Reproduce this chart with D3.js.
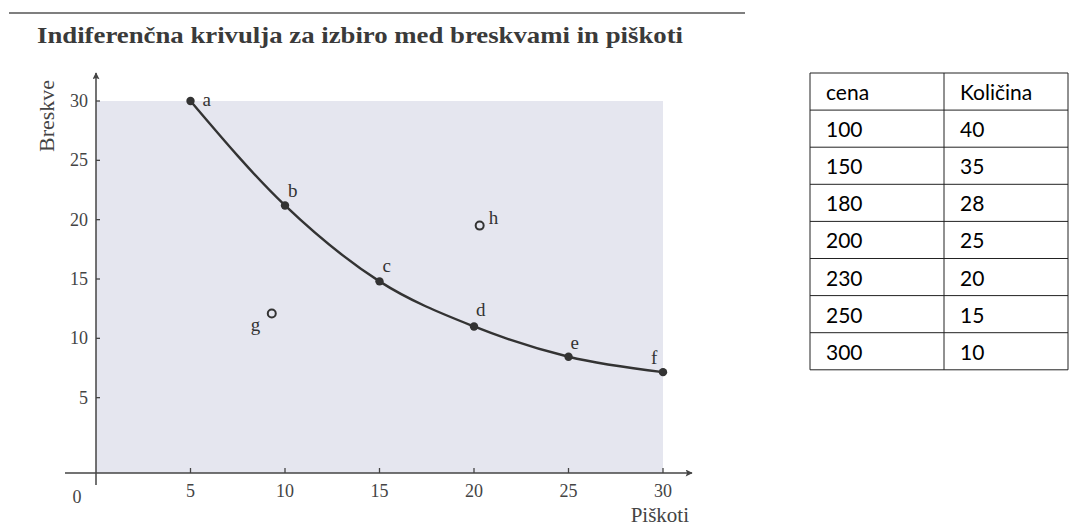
<!DOCTYPE html>
<html>
<head>
<meta charset="utf-8">
<script src="https://cdn.jsdelivr.net/npm/d3@7"></script>
<style>
  body { margin: 0; background: #fff; }
  svg { display: block; }
</style>
</head>
<body>
<div id="chart"></div>
<script>
// Curve points (Piškoti, Breskve)
const curveNames = ["a", "b", "c", "d", "e", "f"];
const curveX = [5, 10, 15, 20, 25, 30];
const curveY = [30, 21.2, 14.8, 11, 8.45, 7.15];

// Off-curve baskets
const otherNames = ["g", "h"];
const otherX = [9.3, 20.3];
const otherY = [12.1, 19.5];

const xTicks = [5, 10, 15, 20, 25, 30];
const yTicks = [5, 10, 15, 20, 25, 30];

// Table
const tableHeader = ["cena", "Količina"];
const cena = [100, 150, 180, 200, 230, 250, 300];
const kolicina = [40, 35, 28, 25, 20, 15, 10];

const width = 1075, height = 526;
const serif = "'Liberation Serif', 'Times New Roman', Times, serif";
const ink = "#3a3a3a";

const svg = d3.select("#chart")
    .append("svg")
    .attr("width", width)
    .attr("height", height);

// top rule and title
svg.append("line")
    .attr("x1", 9).attr("x2", 745)
    .attr("y1", 13).attr("y2", 13)
    .attr("stroke", "#555").attr("stroke-width", 1.5);

svg.append("text")
    .attr("x", 37).attr("y", 43)
    .attr("textLength", 646)
    .attr("lengthAdjust", "spacingAndGlyphs")
    .style("font-family", serif)
    .style("font-weight", "bold")
    .style("font-size", "24px")
    .attr("fill", ink)
    .text("Indiferenčna krivulja za izbiro med breskvami in piškoti");

// scales
const xScale = d3.scaleLinear().domain([0, 30]).range([96, 663]);
const yScale = d3.scaleLinear().domain([0, 30]).range([457, 101]);
const axisY = 473;   // x axis sits a little below zero in the scan

// shaded plot area
svg.append("rect")
    .attr("x", xScale(0))
    .attr("y", yScale(30))
    .attr("width", xScale(30) - xScale(0))
    .attr("height", axisY - yScale(30))
    .attr("fill", "#e5e6ef");

// arrowhead
const defs = svg.append("defs");
defs.append("marker")
    .attr("id", "arrow")
    .attr("viewBox", "0 0 10 10")
    .attr("refX", 9).attr("refY", 5)
    .attr("markerWidth", 9).attr("markerHeight", 7)
    .attr("markerUnits", "userSpaceOnUse")
    .attr("orient", "auto")
    .append("path")
    .attr("d", "M0,0 L10,5 L0,10 L2,5 Z")
    .attr("fill", "#444");

// axes lines
svg.append("line")
    .attr("x1", 65).attr("x2", 692)
    .attr("y1", axisY).attr("y2", axisY)
    .attr("stroke", "#444").attr("stroke-width", 1.5)
    .attr("marker-end", "url(#arrow)");

svg.append("line")
    .attr("x1", xScale(0)).attr("x2", xScale(0))
    .attr("y1", 485).attr("y2", 73)
    .attr("stroke", "#444").attr("stroke-width", 1.5)
    .attr("marker-end", "url(#arrow)");

// x ticks
const xAxis = svg.append("g");
xAxis.selectAll("line")
    .data(xTicks)
    .join("line")
    .attr("x1", d => xScale(d)).attr("x2", d => xScale(d))
    .attr("y1", axisY).attr("y2", axisY - 5)
    .attr("stroke", "#444").attr("stroke-width", 1.3);
xAxis.selectAll("text")
    .data(xTicks)
    .join("text")
    .attr("x", d => xScale(d))
    .attr("y", 497)
    .attr("text-anchor", "middle")
    .style("font-family", serif)
    .style("font-size", "18px")
    .attr("fill", "#444")
    .text(d => d);

svg.append("text")
    .attr("x", 77).attr("y", 503)
    .attr("text-anchor", "middle")
    .style("font-family", serif)
    .style("font-size", "18px")
    .attr("fill", "#444")
    .text("0");

// y ticks
const yAxis = svg.append("g");
yAxis.selectAll("line")
    .data(yTicks)
    .join("line")
    .attr("x1", xScale(0)).attr("x2", xScale(0) + 4)
    .attr("y1", d => yScale(d)).attr("y2", d => yScale(d))
    .attr("stroke", "#444").attr("stroke-width", 1.3);
yAxis.selectAll("text")
    .data(yTicks)
    .join("text")
    .attr("x", 88)
    .attr("y", d => yScale(d) + 6)
    .attr("text-anchor", "end")
    .style("font-family", serif)
    .style("font-size", "18px")
    .attr("fill", "#444")
    .text(d => d);

// axis titles
svg.append("text")
    .attr("transform", "translate(54,116) rotate(-90)")
    .attr("text-anchor", "middle")
    .style("font-family", serif)
    .style("font-size", "22px")
    .attr("fill", "#444")
    .text("Breskve");

svg.append("text")
    .attr("x", 689).attr("y", 522)
    .attr("text-anchor", "end")
    .style("font-family", serif)
    .style("font-size", "21px")
    .attr("fill", "#444")
    .text("Piškoti");

// indifference curve
const curvePts = curveX.map((x, i) => ({ x, y: curveY[i], name: curveNames[i] }));
const line = d3.line()
    .x(d => xScale(d.x))
    .y(d => yScale(d.y))
    .curve(d3.curveMonotoneX);

svg.append("path")
    .datum(curvePts)
    .attr("d", line)
    .attr("fill", "none")
    .attr("stroke", "#333")
    .attr("stroke-width", 2.4);

svg.selectAll("circle.pt")
    .data(curvePts)
    .join("circle")
    .attr("class", "pt")
    .attr("cx", d => xScale(d.x))
    .attr("cy", d => yScale(d.y))
    .attr("r", 4.2)
    .attr("fill", "#333");

// label offsets per point
const curveLabelDx = [12, 3, 3, 2, 2, -12];
const curveLabelDy = [5, -8, -9, -10, -8, -8];
svg.selectAll("text.ptlab")
    .data(curvePts)
    .join("text")
    .attr("class", "ptlab")
    .attr("x", (d, i) => xScale(d.x) + curveLabelDx[i])
    .attr("y", (d, i) => yScale(d.y) + curveLabelDy[i])
    .style("font-family", serif)
    .style("font-size", "19px")
    .attr("fill", "#333")
    .text(d => d.name);

const otherPts = otherX.map((x, i) => ({ x, y: otherY[i], name: otherNames[i] }));
svg.selectAll("circle.other")
    .data(otherPts)
    .join("circle")
    .attr("class", "other")
    .attr("cx", d => xScale(d.x))
    .attr("cy", d => yScale(d.y))
    .attr("r", 4)
    .attr("fill", "none")
    .attr("stroke", "#333")
    .attr("stroke-width", 2);

const otherLabelDx = [-21, 9];
const otherLabelDy = [18, -2];
svg.selectAll("text.otherlab")
    .data(otherPts)
    .join("text")
    .attr("class", "otherlab")
    .attr("x", (d, i) => xScale(d.x) + otherLabelDx[i])
    .attr("y", (d, i) => yScale(d.y) + otherLabelDy[i])
    .style("font-family", serif)
    .style("font-size", "19px")
    .attr("fill", "#333")
    .text(d => d.name);

// price / quantity table
const tblTop = 73, rowH = 37.1;
const colX = [810, 944, 1068];
const rows = [tableHeader].concat(cena.map((c, i) => [c, kolicina[i]]));
const tbl = svg.append("g");

tbl.selectAll("line.h")
    .data(d3.range(rows.length + 1))
    .join("line")
    .attr("class", "h")
    .attr("x1", colX[0]).attr("x2", colX[2])
    .attr("y1", i => tblTop + i * rowH).attr("y2", i => tblTop + i * rowH)
    .attr("stroke", "#222").attr("stroke-width", 1);

tbl.selectAll("line.v")
    .data(colX)
    .join("line")
    .attr("class", "v")
    .attr("x1", d => d).attr("x2", d => d)
    .attr("y1", tblTop).attr("y2", tblTop + rows.length * rowH)
    .attr("stroke", "#222").attr("stroke-width", 1);

rows.forEach((r, i) => {
    r.forEach((v, j) => {
        tbl.append("text")
            .attr("x", colX[j] + 16)
            .attr("y", tblTop + i * rowH + 27)
            .style("font-family", "Lato, 'Open Sans', sans-serif")
            .style("font-size", "21px")
            .attr("fill", "#000")
            .text(v);
    });
});
</script>
</body>
</html>
